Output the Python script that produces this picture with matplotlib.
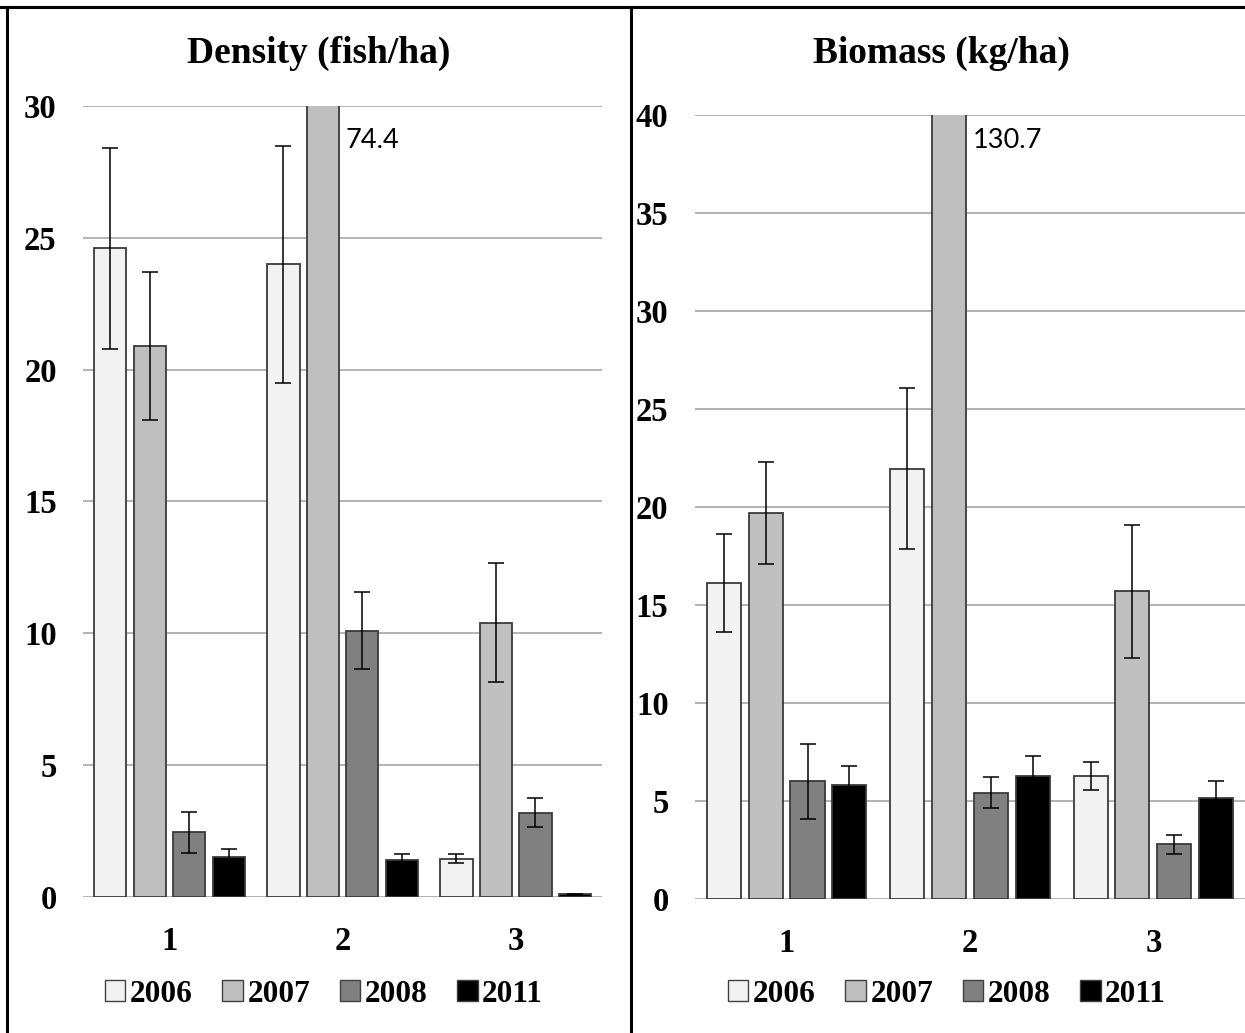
import numpy as np
import matplotlib
matplotlib.use("Agg")
import matplotlib.pyplot as plt
from matplotlib.lines import Line2D
from matplotlib.patches import Patch

# data
sites = ["1", "2", "3"]
years = ["2006", "2007", "2008", "2011"]
colors = ["#f2f2f2", "#bfbfbf", "#808080", "#000000"]

dens_2006 = [24.6, 24.0, 1.45]
dens_2007 = [20.9, 74.4, 10.4]
dens_2008 = [2.45, 10.1, 3.2]
dens_2011 = [1.5, 1.4, 0.1]
dens_err_2006 = [3.8, 4.5, 0.17]
dens_err_2007 = [2.8, 0.0, 2.25]
dens_err_2008 = [0.78, 1.47, 0.55]
dens_err_2011 = [0.3, 0.23, 0.03]

bio_2006 = [16.1, 21.95, 6.27]
bio_2007 = [19.7, 130.7, 15.7]
bio_2008 = [6.0, 5.43, 2.8]
bio_2011 = [5.8, 6.27, 5.15]
bio_err_2006 = [2.5, 4.1, 0.7]
bio_err_2007 = [2.6, 0.0, 3.4]
bio_err_2008 = [1.9, 0.78, 0.48]
bio_err_2011 = [0.97, 1.03, 0.88]

serif = "Liberation Serif"

fig = plt.figure(figsize=(12.45, 10.33), dpi=100)


def draw_panel(ax, values, errors, ymax, ystep, label_text, label_y):
    x = np.arange(len(sites))
    slot = 0.228
    width = 0.186
    for i, (vals, errs) in enumerate(zip(values, errors)):
        pos = x + (i - 1.5) * slot
        ax.bar(pos, vals, width, color=colors[i], edgecolor="#3a3a3a",
               linewidth=1.3, zorder=2)
        ax.errorbar(pos, vals, yerr=errs, fmt="none", ecolor="black",
                    elinewidth=1.1, capsize=6, capthick=1.1, zorder=3)
    ax.set_xlim(-0.5, len(sites) - 0.5)
    ax.set_ylim(0, ymax)
    ax.set_yticks(np.arange(0, ymax + 0.1, ystep))
    ax.set_xticks(x)
    ax.set_xticklabels(sites)
    ax.yaxis.grid(True, color="#a6a6a6", linewidth=1.2, zorder=0)
    ax.set_axisbelow(True)
    for s in ax.spines.values():
        s.set_visible(False)
    ax.tick_params(length=0)
    ax.tick_params(axis="y", pad=19)
    ax.tick_params(axis="x", pad=21)
    for t in ax.get_xticklabels() + ax.get_yticklabels():
        t.set_fontfamily(serif)
        t.set_fontweight("bold")
        t.set_fontsize(23.5)
    # label for the clipped bar
    tall_x = 1 + (1 - 1.5) * slot + width / 2
    ax.annotate(label_text, xy=(tall_x, label_y), xycoords="data",
                xytext=(5, 0), textcoords="offset points",
                fontsize=19.5, family="Lato", va="center", ha="left")


ax1 = fig.add_axes([0.0667, 0.1317, 0.417, 0.7657])
draw_panel(ax1, [dens_2006, dens_2007, dens_2008, dens_2011],
           [dens_err_2006, dens_err_2007, dens_err_2008, dens_err_2011],
           30, 5, "74.4", 28.7)

ax2 = fig.add_axes([0.5582, 0.1297, 0.4418, 0.759])
draw_panel(ax2, [bio_2006, bio_2007, bio_2008, bio_2011],
           [bio_err_2006, bio_err_2007, bio_err_2008, bio_err_2011],
           40, 5, "130.7", 38.7)

fig.text(319 / 1245, 1 - 53 / 1033, "Density (fish/ha)", ha="center", va="center",
         family=serif, fontweight="bold", fontsize=27)
fig.text(941 / 1245, 1 - 53 / 1033, "Biomass (kg/ha)", ha="center", va="center",
         family=serif, fontweight="bold", fontsize=27)

handles = [Patch(facecolor=c, edgecolor="#404040", linewidth=1.0) for c in colors]
for cx in (324 / 1245, 947 / 1245):
    fig.legend(handles, years, loc="center", bbox_to_anchor=(cx, 1 - 994 / 1033),
               ncol=4, frameon=False, handlelength=0.65, handleheight=0.65,
               handletextpad=0.15, columnspacing=0.95,
               prop={"family": serif, "weight": "bold", "size": 22.5})

# panel frame lines
lw = 2.2
fig.add_artist(Line2D([0, 1], [1 - 7 / 1033] * 2, color="black", linewidth=lw,
                      transform=fig.transFigure))
fig.add_artist(Line2D([7 / 1245] * 2, [0, 1 - 7 / 1033], color="black", linewidth=lw,
                      transform=fig.transFigure))
fig.add_artist(Line2D([631 / 1245] * 2, [0, 1 - 7 / 1033], color="black", linewidth=lw,
                      transform=fig.transFigure))

fig.savefig("out.png", dpi=100)
